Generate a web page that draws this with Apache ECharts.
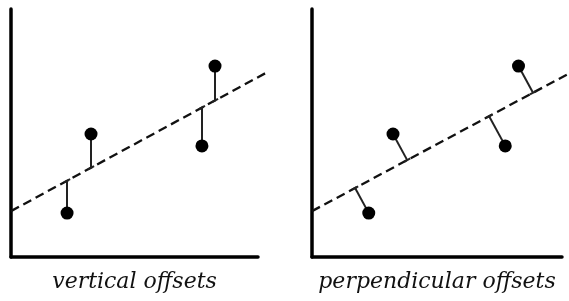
<!DOCTYPE html>
<html>
<head>
<meta charset="utf-8">
<style>
  html, body { margin: 0; padding: 0; background: #fff; }
  #chart { width: 569px; height: 301px; }
</style>
<script src="https://cdn.jsdelivr.net/npm/echarts@6/dist/echarts.min.js"></script>
</head>
<body>
<div id="chart"></div>
<script>
// same four observations drawn in both panels
const pointX = [2.27, 3.24, 7.73, 8.26];
const pointY = [1.77, 4.96, 4.48, 7.70];
// fitted line y = fitIntercept + fitSlope * x
const fitIntercept = 1.85;
const fitSlope = 0.54;
const fitRange = [0, 10.4];
const panelTitles = ["vertical offsets", "perpendicular offsets"];

const points = pointX.map((x, i) => [x, pointY[i]]);
const fitY = (x) => fitIntercept + fitSlope * x;

// foot of each offset on the fitted line
function verticalFoot(p) {
  return [p[0], fitY(p[0])];
}
function perpFoot(p) {
  let d = (fitSlope * p[0] - p[1] + fitIntercept) / (1 + fitSlope * fitSlope);
  return [p[0] - fitSlope * d, p[1] + d];
}

// short cap along the fitted line at a foot
function cap(f) {
  let h = 0.14;
  let dx = h / Math.sqrt(1 + fitSlope * fitSlope);
  return [[f[0] - dx, f[1] - fitSlope * dx], [f[0] + dx, f[1] + fitSlope * dx]];
}

function panelSeries(idx, footFn) {
  let feet = points.map(footFn);
  return [
    {
      type: "lines",
      coordinateSystem: "cartesian2d",
      xAxisIndex: idx,
      yAxisIndex: idx,
      clip: false,
      silent: true,
      data: [{ coords: fitRange.map((x) => [x, fitY(x)]) }],
      lineStyle: { color: "#111", width: 2.3, type: [9, 5], opacity: 1 },
      z: 2,
    },
    {
      type: "lines",
      coordinateSystem: "cartesian2d",
      xAxisIndex: idx,
      yAxisIndex: idx,
      data: points.map((p, i) => ({ coords: [p, feet[i]] })),
      lineStyle: { color: "#222", width: 2, opacity: 1 },
      z: 3,
    },
    {
      type: "lines",
      coordinateSystem: "cartesian2d",
      xAxisIndex: idx,
      yAxisIndex: idx,
      data: feet.map((f) => ({ coords: cap(f) })),
      lineStyle: { color: "#222", width: 2, opacity: 1 },
      z: 3,
    },
    {
      type: "scatter",
      xAxisIndex: idx,
      yAxisIndex: idx,
      data: points,
      symbolSize: 13,
      itemStyle: { color: "#000", opacity: 1 },
      z: 4,
    },
  ];
}

function xAxisFor(idx) {
  return {
    gridIndex: idx,
    type: "value",
    min: 0,
    max: 10,
    name: panelTitles[idx],
    nameLocation: "middle",
    nameGap: 14,
    nameTextStyle: {
      fontFamily: "DejaVu Serif",
      fontStyle: "italic",
      fontSize: 22,
      color: "#111",
      verticalAlign: "top",
    },
    axisLine: { show: true, lineStyle: { color: "#000", width: 3.5 } },
    axisTick: { show: false },
    axisLabel: { show: false },
    splitLine: { show: false },
  };
}

function yAxisFor(idx) {
  return {
    gridIndex: idx,
    type: "value",
    min: 0,
    max: 10,
    axisLine: { show: true, lineStyle: { color: "#000", width: 3.5 } },
    axisTick: { show: false },
    axisLabel: { show: false },
    splitLine: { show: false },
  };
}

let chart = echarts.init(document.getElementById("chart"));
chart.setOption({
  animation: false,
  backgroundColor: "#fff",
  grid: [
    { left: 11, top: 9, width: 247, height: 248 },
    { left: 312, top: 9, width: 250, height: 248 },
  ],
  xAxis: [xAxisFor(0), xAxisFor(1)],
  yAxis: [yAxisFor(0), yAxisFor(1)],
  series: [].concat(panelSeries(0, verticalFoot), panelSeries(1, perpFoot)),
});
</script>
</body>
</html>
